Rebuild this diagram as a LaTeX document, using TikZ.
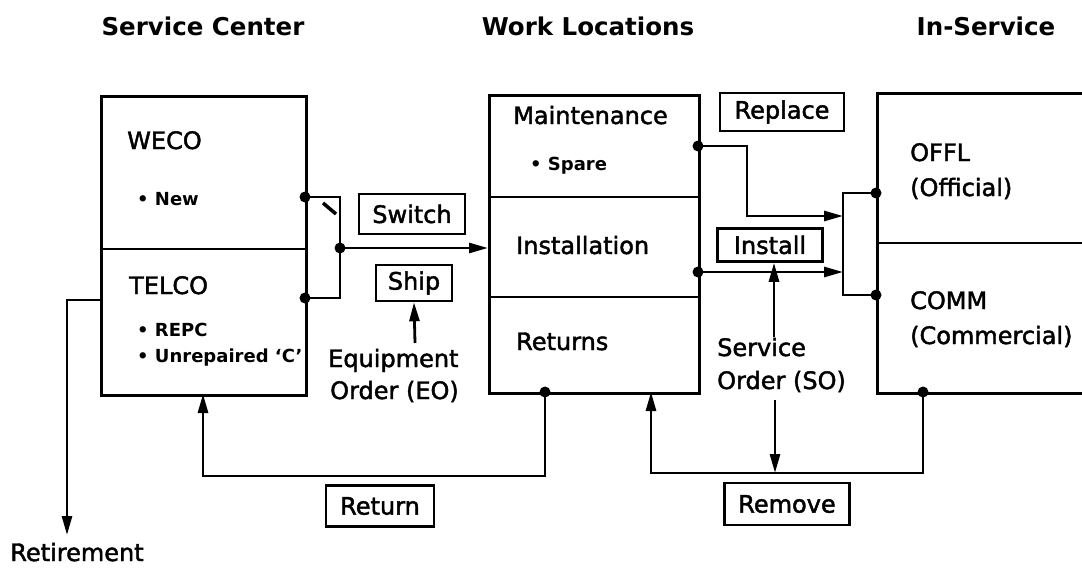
\documentclass[tikz,border=0pt]{standalone}
\usepackage{fontspec}
\setmainfont{DejaVu Sans}
\newfontfamily\medfont[FakeBold=1.8]{DejaVu Sans}
\usetikzlibrary{arrows.meta,calc}
\begin{document}
\begin{tikzpicture}[x=1pt,y=1pt,
  ln/.style={line width=2.8pt},
  arr/.style={line width=2.8pt,-{Triangle[length=19pt,width=10pt]}},
  box/.style={draw,line width=2.8pt,anchor=north west,inner sep=0pt},
  lbl/.style={draw,line width=2.6pt,inner sep=0pt,font=\medfont\fontsize{24}{28}\selectfont},
  hdr/.style={font=\bfseries\fontsize{24.5}{28}\selectfont},
  big/.style={font=\medfont\fontsize{24}{28}\selectfont,anchor=base west,inner sep=0pt},
  small/.style={font=\bfseries\fontsize{18}{22}\selectfont,anchor=base west,inner sep=0pt},
  jdot/.style={circle,fill,inner sep=0pt,minimum size=11pt}
]
\useasboundingbox (0,0) rectangle (1082,-570);
\fill[white] (0,0) rectangle (1082,-570);

% headers
\node[hdr] (h1) at (203,-26) {Service Center};
\node[hdr] (h2) at (588,-26) {Work Locations};
\node[hdr] (h3) at (986,-26) {In-Service};

% main boxes
\node[box,minimum width=205pt,minimum height=299pt] (sc) at (100,-95) {};
\draw[ln] (100,-249) -- (305,-249);
\node[box,minimum width=210pt,minimum height=298pt] (wl) at (488,-94) {};
\draw[ln] (488,-197) -- (698,-197);
\draw[ln] (488,-297) -- (698,-297);
\node[box,minimum width=250pt,minimum height=300pt] (is) at (876,-92) {};
\draw[ln] (876,-243) -- (1126,-243);

% texts in boxes
\node[big] (weco) at (127,-149) {WECO};
\node[small] (new) at (137,-205) {• New};
\node[big] (telco) at (129,-294) {TELCO};
\node[small] (repc) at (137,-336) {• REPC};
\node[small] (unrep) at (137,-362) {• Unrepaired ‘C’};
\node[big] (maint) at (513,-124) {Maintenance};
\node[small] (spare) at (530,-170) {• Spare};
\node[big] (inst) at (516,-254) {Installation};
\node[big] (rets) at (516,-350) {Returns};
\node[big] (offl) at (910,-161) {OFFL};
\node[big] (offi) at (910,-196) {(Official)};
\node[big] (comm) at (910,-309) {COMM};
\node[big] (comme) at (910,-344) {(Commercial)};

% free texts
\node[big] (eq1) at (328,-367) {Equipment};
\node[big] (eq2) at (330,-399) {Order (EO)};
\node[big] (so1) at (717,-356) {Service};
\node[big] (so2) at (717,-389) {Order (SO)};
\node[big,anchor=base] (retire) at (77,-561) {Retirement};

% labelled boxes
\node[lbl,minimum width=106pt,minimum height=40pt] (switch) at (412,-214) {Switch};
\node[lbl,minimum width=76pt,minimum height=36pt] (ship) at (414,-283) {Ship};
\node[lbl,minimum width=124pt,minimum height=38pt] (replace) at (782,-112) {Replace};
\node[lbl,minimum width=105pt,minimum height=33pt] (install) at (770,-245) {Install};
\node[lbl,minimum width=108pt,minimum height=41pt] (return) at (380,-506) {Return};
\node[lbl,minimum width=125pt,minimum height=42pt] (remove) at (787,-504) {Remove};

% junction coordinates
\coordinate (wecoOut) at (305,-197);
\coordinate (telcoOut) at (305,-298);
\coordinate (swA) at (340,-197);
\coordinate (swB) at (340,-298);
\coordinate (swMid) at (340,-248);
\coordinate (maintOut) at (698,-146);
\coordinate (instOut) at (698,-272);
\coordinate (offlIn) at (876,-193);
\coordinate (commIn) at (876,-295);
\coordinate (retOut) at (545,-392);
\coordinate (remOut) at (923,-392);
\coordinate (retIn) at (203,-394);
\coordinate (remIn) at (651,-392);
\coordinate (retireTip) at (67,-535);
\coordinate (telcoL) at (100,-300);
\coordinate (eoTop) at (415,-343);
\coordinate (soTop) at (774,-337);
\coordinate (soBot) at (775,-400);
\coordinate (soTip) at (775,-473);

% switch bracket
\draw[ln] (wecoOut) -- (swA) -- (swB) -- (telcoOut);
\draw[line width=3.5pt] (323,-203) -- (336,-214);
\draw[arr] (swMid) -- (swMid -| wl.west);
\node[jdot] (d1) at (wecoOut) {};
\node[jdot] (d2) at (telcoOut) {};
\node[jdot] (d3) at (swMid) {};

% retirement
\draw[arr] (telcoL) -- (67,-300) -- (retireTip);

% equipment order
\draw[arr] (eoTop) -- (ship.south);

% work location outputs
\draw[arr] (maintOut) -- (747,-146) -- (747,-216) -- (843,-216);
\draw[arr] (instOut) -- (843,-272);
\draw[ln] (offlIn) -- (843,-193) -- (843,-295) -- (commIn);
\node[jdot] (d4) at (maintOut) {};
\node[jdot] (d5) at (instOut) {};
\node[jdot] (d6) at (offlIn) {};
\node[jdot] (d7) at (commIn) {};

% service order
\draw[arr] (soTop) -- (install.south -| soTop);
\draw[arr] (soBot) -- (soTip);

% return loops
\draw[arr] (retOut) -- (545,-476) -- (203,-476) -- (retIn);
\draw[arr] (remOut) -- (923,-473) -- (651,-473) -- (remIn);
\node[jdot] (d8) at (retOut) {};
\node[jdot] (d9) at (remOut) {};
\end{tikzpicture}
\end{document}
